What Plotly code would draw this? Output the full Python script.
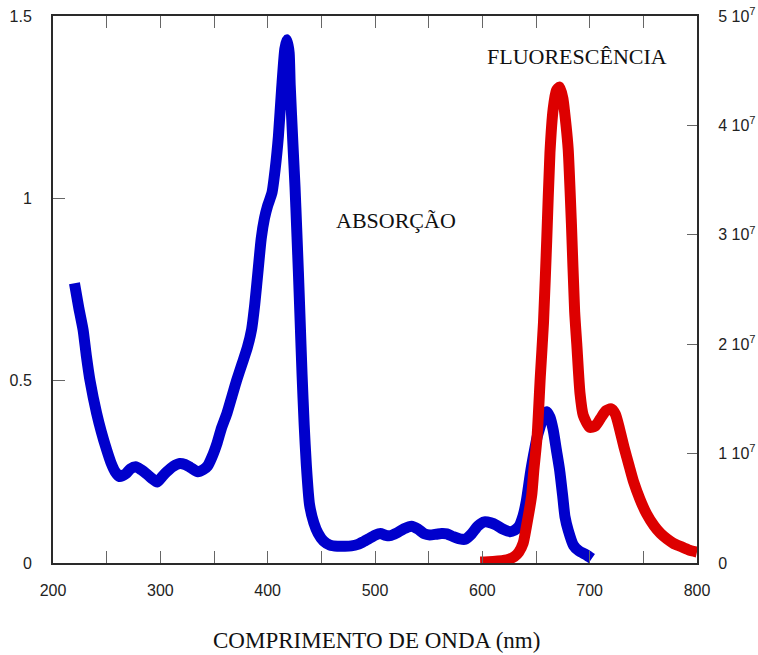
import plotly.graph_objects as go

# Absorption spectrum (left axis)
abs_nm = [220, 224, 228, 231, 234.5, 240.7, 245, 250, 254, 258, 262, 268, 272, 277, 282, 287, 292, 297,
          302, 306, 312, 318, 323, 328, 335, 340, 344, 348, 353, 357, 362, 367, 371, 376, 381, 385, 388,
          391, 394, 397, 400, 404, 407, 410, 413, 416, 418, 420, 421, 423.5, 425.5, 427, 428.6, 430, 432,
          434, 436, 439, 443, 447, 452, 458, 465, 472, 478, 484, 489, 494, 500, 505, 510, 514, 520, 527,
          534, 540, 546, 551, 557, 562, 567, 573, 579, 584, 590, 596, 602, 608, 613, 619, 626, 630, 634,
          638, 641, 645, 648, 651, 654, 657, 660, 663, 666, 669, 672, 675, 677, 680, 685, 690, 697, 702]
abs_val = [0.767, 0.70, 0.64, 0.57, 0.50, 0.41, 0.36, 0.31, 0.275, 0.25, 0.237, 0.245, 0.258, 0.264, 0.256,
           0.245, 0.232, 0.222, 0.238, 0.25, 0.265, 0.273, 0.27, 0.262, 0.25, 0.256, 0.266, 0.29, 0.33, 0.37,
           0.41, 0.46, 0.50, 0.545, 0.59, 0.64, 0.71, 0.80, 0.89, 0.945, 0.98, 1.015, 1.08, 1.17, 1.30, 1.41,
           1.435, 1.40, 1.31, 1.15, 1.03, 0.92, 0.80, 0.685, 0.52, 0.38, 0.27, 0.16, 0.11, 0.081, 0.06, 0.049,
           0.046, 0.046, 0.047, 0.051, 0.058, 0.066, 0.076, 0.081, 0.076, 0.075, 0.082, 0.094, 0.101, 0.093,
           0.08, 0.077, 0.079, 0.081, 0.08, 0.072, 0.066, 0.065, 0.08, 0.102, 0.113, 0.11, 0.104, 0.093, 0.086,
           0.09, 0.10, 0.13, 0.17, 0.25, 0.30, 0.345, 0.375, 0.405, 0.415, 0.40, 0.365, 0.31, 0.255, 0.18,
           0.127, 0.09, 0.048, 0.033, 0.022, 0.012]

# Fluorescence spectrum (right axis), in units of 1e7
fl_nm = [598, 610, 623, 630, 634, 638, 641, 646, 648, 651, 654, 657, 660, 663, 666, 669, 672, 675, 678,
         680, 683, 686, 688, 691, 694, 700, 705, 710, 715, 720, 724, 728, 732, 737, 741, 747, 753, 760,
         766, 772, 778, 785, 792, 800]
fl_val_e7 = [0.01, 0.015, 0.03, 0.06, 0.10, 0.18, 0.33, 0.62, 0.85, 1.15, 1.7, 2.2, 2.95, 3.75, 4.15, 4.32,
             4.35, 4.25, 4.0, 3.78, 3.1, 2.3, 2.0, 1.55, 1.35, 1.24, 1.25, 1.32, 1.39, 1.41, 1.36, 1.22,
             1.06, 0.88, 0.74, 0.58, 0.45, 0.34, 0.27, 0.22, 0.18, 0.15, 0.12, 0.10]
fl_val = [v * 1e7 for v in fl_val_e7]

x_ticks = [200, 300, 400, 500, 600, 700, 800]
x_tick_text = ["200", "300", "400", "500", "600", "700", "800"]
x_minor_step = 50
y_ticks = [0, 0.5, 1, 1.5]
y_tick_text = ["0", "0.5", "1", "1.5"]
y2_ticks = [0, 1e7, 2e7, 3e7, 4e7, 5e7]
y2_tick_text = ["0", "1 10<sup>7</sup>", "2 10<sup>7</sup>", "3 10<sup>7</sup>", "4 10<sup>7</sup>",
                "5 10<sup>7</sup>"]

BLUE = "#0000cc"
RED = "#dd0000"
SERIF = "Liberation Serif, Times New Roman, serif"
SANS = "Liberation Sans, Arial, Helvetica, sans-serif"

fig = go.Figure()
fig.add_trace(go.Scatter(x=abs_nm, y=abs_val, mode="lines", yaxis="y",
                         line=dict(color=BLUE, width=11, shape="spline", smoothing=0.6),
                         showlegend=False, hoverinfo="skip"))
fig.add_trace(go.Scatter(x=fl_nm, y=fl_val, mode="lines", yaxis="y2",
                         line=dict(color=RED, width=11, shape="spline", smoothing=0.6),
                         showlegend=False, hoverinfo="skip"))

axis_line = dict(showline=True, linecolor="#2a2a2a", linewidth=2, ticks="inside", ticklen=12,
                 tickcolor="#666666", tickwidth=1, showgrid=False, zeroline=False, automargin=False,
                 tickfont=dict(family=SANS, size=16, color="#222222"))

fig.update_layout(
    width=758, height=655,
    margin=dict(l=53, r=61, t=16, b=92, pad=0, autoexpand=False),
    paper_bgcolor="white", plot_bgcolor="white",
    xaxis=dict(range=[200, 800], tickmode="array", tickvals=x_ticks, ticktext=x_tick_text,
               mirror="ticks", ticklabelstandoff=12,
               minor=dict(dtick=x_minor_step, tick0=200, ticks="inside", ticklen=12,
                          tickcolor="#666666", tickwidth=1, showgrid=False),
               **axis_line),
    yaxis=dict(range=[0, 1.5], tickmode="array", tickvals=y_ticks, ticktext=y_tick_text,
               ticklabelstandoff=16, **axis_line),
    yaxis2=dict(range=[0, 5e7], overlaying="y", side="right", tickmode="array", tickvals=y2_ticks,
                ticktext=y2_tick_text, ticklabelstandoff=16, **{**axis_line, "ticklen": 10}),
    annotations=[
        dict(text="ABSORÇÃO", x=520, y=0.938, xref="x", yref="y", showarrow=False,
             xanchor="center", yanchor="middle",
             font=dict(family=SERIF, size=22, color="#111111")),
        dict(text="FLUORESCÊNCIA", x=688.5, y=1.389, xref="x", yref="y", showarrow=False,
             xanchor="center", yanchor="middle",
             font=dict(family=SERIF, size=22, color="#111111")),
        dict(text="COMPRIMENTO DE ONDA (nm)", x=501.6, y=-0.141, xref="x", yref="paper",
             showarrow=False, xanchor="center", yanchor="middle",
             font=dict(family=SERIF, size=23, color="#111111")),
    ],
)

fig.write_html("out.html", config={"displayModeBar": False},
               post_script="document.body.style.margin='0';")
